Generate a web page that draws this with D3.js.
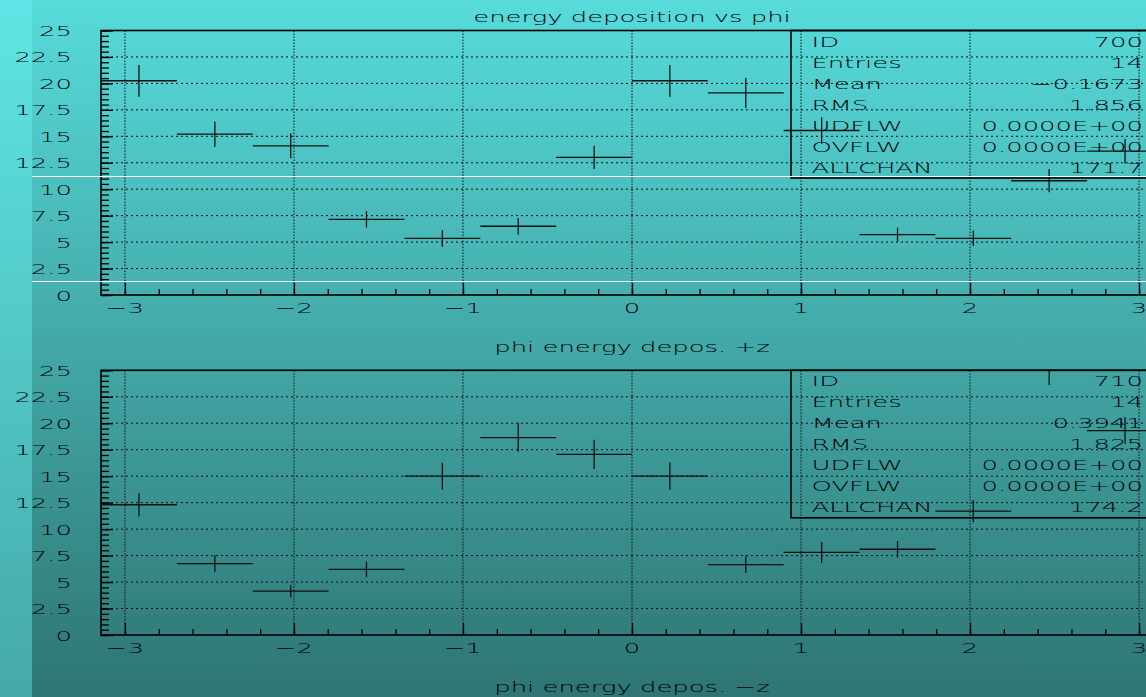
<!DOCTYPE html>
<html lang="en">
<head>
<meta charset="UTF-8">
<title>energy deposition vs phi</title>
<style>
    body { margin: 0; overflow: hidden; }
    svg { display: block; }
    text {
        font-family: "DejaVu Sans", sans-serif;
        font-size: 14px;
        font-weight: 200;
        fill: #000;
    }
    .frame { stroke: #000; stroke-width: 1.6; fill: none; }
    .gridx line { stroke: #111; stroke-width: 1; stroke-dasharray: 1.5,1.5; }
    .gridy line { stroke: #111; stroke-width: 1; stroke-dasharray: 2,3; }
    .tick line { stroke: #000; stroke-width: 1.3; }
    .domain { display: none; }
    .pts line { stroke: #111; stroke-width: 1.3; }
</style>
</head>
<body>
<svg width="1146" height="697"></svg>
<script src="https://d3js.org/d3.v7.min.js"></script>
<script>
// 14 phi bins over -pi..pi
var phiCenters = [-2.917, -2.468, -2.019, -1.571, -1.122, -0.673, -0.224, 0.224, 0.673, 1.122, 1.571, 2.019, 2.468, 2.917];
var binWidth = 0.449;

// +z histogram (ID 700)
var plusZ    = [20.25, 15.2, 14.1, 7.15, 5.35, 6.5, 13.0, 20.25, 19.1, 15.55, 5.7, 5.35, 10.8, 13.6];
var plusZErr = [1.5, 1.2, 1.18, 0.78, 0.78, 0.78, 1.1, 1.5, 1.42, 1.26, 0.65, 0.74, 1.1, 1.18];

// -z histogram (ID 710)
var minusZ    = [12.3, 6.75, 4.15, 6.2, 15.0, 18.65, 17.05, 15.0, 6.65, 7.8, 8.1, 11.7, 25.5, 19.3];
var minusZErr = [1.1, 0.79, 0.58, 0.74, 1.26, 1.34, 1.38, 1.29, 0.79, 0.99, 0.79, 1.05, 1.9, 1.26];

var yTicks = [0, 2.5, 5, 7.5, 10, 12.5, 15, 17.5, 20, 22.5, 25];
var xTicks = [-3, -2, -1, 0, 1, 2, 3];

var statNames  = ["ID", "Entries", "Mean", "RMS", "UDFLW", "OVFLW", "ALLCHAN"];
var statsPlus  = ["700", "14", "\u22120.1673", "1.856", "0.0000E+00", "0.0000E+00", "171.7"];
var statsMinus = ["710", "14", "0.3941", "1.825", "0.0000E+00", "0.0000E+00", "174.2"];

var svg = d3.select("svg");
var W = 1146, H = 697;
var SX = 1.85; // the old plotting font is very wide

var defs = svg.append("defs");
var bg = defs.append("linearGradient").attr("id", "bg").attr("x1", 0).attr("y1", 0).attr("x2", 0).attr("y2", 1);
bg.append("stop").attr("offset", "0%").attr("stop-color", "#57dbdb");
bg.append("stop").attr("offset", "100%").attr("stop-color", "#2e7573");
var strip = defs.append("linearGradient").attr("id", "strip").attr("x1", 0).attr("y1", 0).attr("x2", 0).attr("y2", 1);
strip.append("stop").attr("offset", "0%").attr("stop-color", "#5fe5e5");
strip.append("stop").attr("offset", "100%").attr("stop-color", "#45a9a8");

svg.append("rect").attr("width", W).attr("height", H).attr("fill", "url(#bg)");
svg.append("rect").attr("width", 32).attr("height", H).attr("fill", "url(#strip)");

function stext(sel, x, y, str, anchor) {
    return sel.append("text")
        .attr("transform", "translate(" + x + "," + y + ") scale(" + SX + ",1)")
        .attr("text-anchor", anchor || "start")
        .text(str);
}

var x = d3.scaleLinear().domain([-Math.PI, Math.PI]).range([101, 1163]);

function minusSign(v) {
    return String(v).replace("-", "\u2212");
}

function drawPanel(top, bottom, vals, errs, stats, id) {
    var y = d3.scaleLinear().domain([0, 25]).range([bottom, top]);
    var g = svg.append("g");

    var clip = defs.append("clipPath").attr("id", "clip" + id);
    clip.append("rect").attr("x", x.range()[0]).attr("y", top)
        .attr("width", x.range()[1] - x.range()[0]).attr("height", bottom - top);

    // grid
    g.append("g").attr("class", "gridx").selectAll("line")
        .data(xTicks).enter().append("line")
        .attr("x1", d => x(d)).attr("x2", d => x(d))
        .attr("y1", top).attr("y2", bottom);
    g.append("g").attr("class", "gridy").selectAll("line")
        .data(yTicks.slice(1, -1)).enter().append("line")
        .attr("x1", x.range()[0]).attr("x2", x.range()[1])
        .attr("y1", d => y(d)).attr("y2", d => y(d));

    // ticks
    var yMinor = d3.range(0, 25.01, 0.5);
    var xMinor = d3.range(-3.2, 3.21, 0.2).filter(d => d > -Math.PI && d < Math.PI);
    g.append("g").attr("transform", "translate(" + x.range()[0] + ",0)")
        .call(d3.axisLeft(y).tickValues(yMinor).tickSize(-8).tickFormat(""));
    g.append("g").attr("transform", "translate(" + x.range()[0] + ",0)")
        .call(d3.axisLeft(y).tickValues(yTicks).tickSize(-12).tickFormat(""));
    g.append("g").attr("transform", "translate(0," + bottom + ")")
        .call(d3.axisBottom(x).tickValues(xMinor).tickSize(-6).tickFormat(""));
    g.append("g").attr("transform", "translate(0," + bottom + ")")
        .call(d3.axisBottom(x).tickValues(xTicks).tickSize(-12).tickFormat(""));

    // frame
    g.append("rect").attr("class", "frame")
        .attr("x", x.range()[0]).attr("y", top)
        .attr("width", x.range()[1] - x.range()[0]).attr("height", bottom - top)
        .attr("stroke-width", 2);

    // tick labels
    yTicks.forEach(function (v) {
        stext(g, 72, y(v) + 5.5, String(v), "end");
    });
    xTicks.forEach(function (v) {
        stext(g, x(v), bottom + 18, minusSign(v), "middle");
    });

    // statistics box
    var bx = 791, bh = 147.5;
    g.append("rect").attr("class", "frame")
        .attr("x", bx).attr("y", top).attr("width", 400).attr("height", bh);
    statNames.forEach(function (s, i) {
        stext(g, 811.5, top + 16 + i * 21, s, "start");
        stext(g, 1143, top + 16 + i * 21, stats[i], "end");
    });

    // histogram points with error bars
    var pts = g.append("g").attr("class", "pts").attr("clip-path", "url(#clip" + id + ")");
    phiCenters.forEach(function (c, i) {
        pts.append("line")
            .attr("x1", x(c - binWidth / 2)).attr("x2", x(c + binWidth / 2))
            .attr("y1", y(vals[i])).attr("y2", y(vals[i]));
        pts.append("line")
            .attr("x1", x(c)).attr("x2", x(c))
            .attr("y1", y(vals[i] - errs[i])).attr("y2", y(vals[i] + errs[i]));
    });
}

drawPanel(30.5, 295, plusZ, plusZErr, statsPlus, 1);
drawPanel(370.3, 635, minusZ, minusZErr, statsMinus, 2);

// titles
stext(svg, 632, 21.7, "energy deposition vs phi", "middle");
stext(svg, 632, 351.7, "phi energy depos. +z", "middle");
stext(svg, 632, 692, "phi energy depos. \u2212z", "middle");

// two thin white lines across the page
svg.selectAll(".wl").data([176.5, 281.5]).enter().append("line")
    .attr("x1", 32).attr("x2", W)
    .attr("y1", d => d).attr("y2", d => d)
    .attr("stroke", "#fff").attr("stroke-width", 1);
</script>
</body>
</html>
